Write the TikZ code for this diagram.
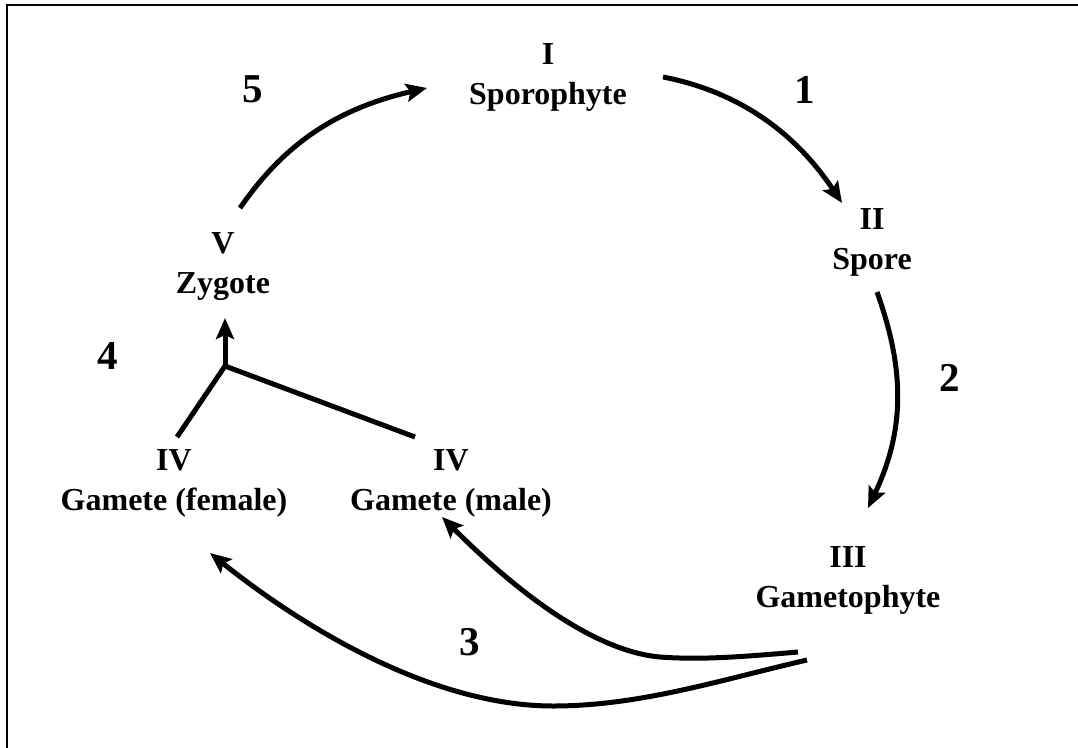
\documentclass[tikz,border=0pt]{standalone}
\usepackage{fontspec}
\setmainfont{Liberation Serif}
\usetikzlibrary{arrows.meta,calc}
\tikzset{
  lbl/.style={align=center,inner sep=0pt,font=\fontsize{32}{40}\selectfont\bfseries},
  num/.style={inner sep=0pt,font=\fontsize{41}{49}\selectfont\bfseries},
  arr/.style={line width=5pt,-{Stealth[length=21pt,width=18pt,inset=4pt]}},
  ln/.style={line width=5pt},
  frame/.style={line width=2pt}
}
\begin{document}
\begin{tikzpicture}[x=1pt,y=-1pt]
\useasboundingbox (0,0) rectangle (1078,747);
\clip (0,0) rectangle (1078,747);
\draw[frame] (7,770) -- (7,5) -- (1100,5);

\node[lbl] (spo) at (548,77) {I\\Sporophyte};
\node[lbl] (spr) at (872,242) {II\\Spore};
\node[lbl] (gph) at (848,580) {III\\Gametophyte};
\node[lbl] (fem) at (174,483) {IV\\Gamete (female)};
\node[lbl] (mal) at (451,483) {IV\\Gamete (male)};
\node[lbl] (zyg) at (223,267) {V\\Zygote};

\node[num] (n1) at (805,90) {1};
\node[num] (n2) at (950,378) {2};
\node[num] (n3) at (470,642) {3};
\node[num] (n4) at (108,356) {4};
\node[num] (n5) at (253,89) {5};

% 1: sporophyte -> spore
\draw[arr] ($(spo.center)+(115,0)$) .. controls ($(spo.center)+(182,13)$) and ($(spr.center)+(-82,-117)$) .. ($(spr.center)+(-30,-39)$);
% 2: spore -> gametophyte
\draw[arr] ($(spr.center)+(5,50)$) .. controls ($(spr.center)+(33,128)$) and ($(gph.center)+(57,-150)$) .. ($(gph.center)+(20,-72)$);
% 3: gametophyte -> male gamete
\coordinate (mm) at ($(gph.center)+(-188,77)$);
\draw[arr] ($(gph.center)+(-50,72)$) .. controls ($(gph.center)+(-108,77)$) and ($(gph.center)+(-148,80)$) .. (mm)
  .. controls ($(mal.center)+(129,167)$) and ($(mal.center)+(39,82)$) .. ($(mal.center)+(-9,34)$);
% 3: gametophyte -> female gamete
\coordinate (fm) at ($(gph.center)+(-295,126)$);
\draw[arr] ($(gph.center)+(-41,80)$) .. controls ($(gph.center)+(-128,100)$) and ($(gph.center)+(-208,126)$) .. (fm)
  .. controls ($(fem.center)+(256,223)$) and ($(fem.center)+(126,142)$) .. ($(fem.center)+(36,70)$);
% 4: gametes -> zygote
\coordinate (j) at (225,366);
\draw[ln,line join=miter] ($(fem.center)+(3,-46)$) -- (j) -- ($(mal.center)+(-36,-46)$);
\draw[arr] (j) -- ($(zyg.center)+(2,51)$);
% 5: zygote -> sporophyte
\draw[arr] ($(zyg.center)+(17,-59)$) .. controls ($(zyg.center)+(57,-117)$) and ($(spo.center)+(-218,33)$) .. ($(spo.center)+(-121,11)$);
\end{tikzpicture}
\end{document}
